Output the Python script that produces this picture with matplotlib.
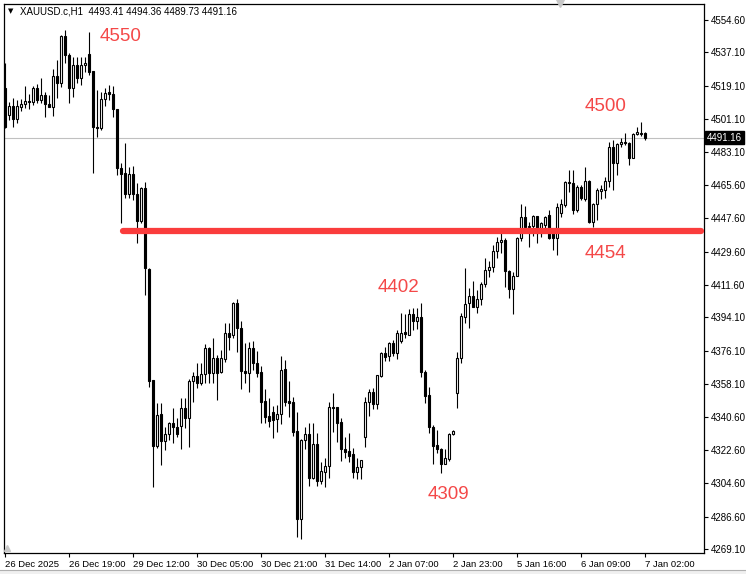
import numpy as np
import matplotlib
matplotlib.use('Agg')
from matplotlib import pyplot as plt
from matplotlib import transforms
from matplotlib.patches import Rectangle

# hourly candles, 26 Dec 2025 03:00 .. 7 Jan 2026 02:00
opens = [
    4517.7, 4503.3, 4508.2, 4501.0, 4507.8, 4509.2, 4510.9, 4510.5, 4518.1, 4511.4,
    4514.1, 4509.2, 4507.8, 4524.4, 4520.4, 4546.0, 4535.7, 4518.1, 4530.3, 4523.1,
    4530.1, 4536.2, 4527.1, 4497.0, 4496.1, 4511.8, 4515.7, 4514.7, 4506.4, 4474.5,
    4471.8, 4460.5, 4471.5, 4460.5, 4446.3, 4463.7, 4420.2, 4360.3, 4324.9, 4341.9,
    4327.6, 4331.2, 4336.9, 4334.8, 4335.5, 4345.5, 4339.6, 4359.9, 4362.4, 4358.8,
    4363.5, 4377.4, 4364.3, 4372.0, 4364.8, 4371.5, 4385.5, 4384.4, 4401.7, 4388.2,
    4365.3, 4364.3, 4377.4, 4369.3, 4364.6, 4349.0, 4340.9, 4342.9, 4339.1, 4341.8,
    4366.1, 4349.0, 4348.2, 4332.8, 4285.5, 4327.7, 4331.2, 4307.2, 4325.8, 4306.0,
    4310.8, 4313.9, 4345.9, 4345.7, 4337.6, 4323.1, 4322.0, 4320.4, 4310.8, 4313.2,
    4329.4, 4348.3, 4353.7, 4347.6, 4362.5, 4374.7, 4373.3, 4380.1, 4374.7, 4381.4,
    4386.0, 4384.8, 4395.9, 4392.3, 4394.1, 4364.8, 4352.2, 4334.8, 4325.2, 4322.9,
    4315.0, 4317.5, 4331.0, 4353.1, 4372.0, 4394.1, 4401.7, 4405.6, 4399.5, 4403.8,
    4411.9, 4419.7, 4421.5, 4429.9, 4434.6, 4435.9, 4419.3, 4409.3, 4416.4, 4436.8,
    4448.5, 4442.7, 4443.4, 4448.8, 4439.5, 4443.9, 4449.4, 4439.5, 4436.8, 4450.2,
    4454.8, 4467.3, 4466.4, 4452.0, 4464.6, 4457.8, 4467.9, 4445.8, 4455.3, 4462.5,
    4462.9, 4467.9, 4486.2, 4477.6, 4487.5, 4488.6, 4488.4, 4480.3, 4492.9, 4493.1,
    4493.41]
highs = [
    4531.2, 4510.5, 4512.3, 4511.4, 4511.8, 4519.0, 4514.7, 4519.0, 4520.1, 4523.1,
    4515.9, 4514.1, 4528.0, 4533.0, 4546.5, 4549.2, 4536.6, 4534.8, 4534.8, 4534.8,
    4534.8, 4548.3, 4527.1, 4516.8, 4515.9, 4517.7, 4519.5, 4519.0, 4506.4, 4477.2,
    4488.0, 4475.4, 4475.8, 4466.8, 4464.6, 4467.3, 4420.6, 4360.3, 4347.7, 4347.7,
    4335.1, 4337.8, 4345.0, 4339.6, 4350.4, 4350.4, 4360.7, 4364.8, 4369.3, 4369.3,
    4379.7, 4378.3, 4382.8, 4373.8, 4376.5, 4391.3, 4390.9, 4402.6, 4403.8, 4392.3,
    4380.1, 4381.0, 4381.5, 4376.0, 4367.9, 4355.5, 4350.4, 4346.3, 4346.8, 4373.3,
    4371.1, 4360.0, 4351.0, 4343.0, 4328.3, 4335.1, 4337.3, 4336.9, 4331.9, 4316.3,
    4318.4, 4348.4, 4353.5, 4345.9, 4340.0, 4329.7, 4331.9, 4323.4, 4318.0, 4317.1,
    4351.3, 4355.5, 4355.8, 4363.0, 4375.6, 4377.9, 4381.0, 4381.9, 4387.3, 4396.7,
    4395.9, 4398.5, 4399.0, 4399.0, 4401.7, 4365.7, 4356.7, 4336.0, 4333.3, 4323.8,
    4323.1, 4331.5, 4333.3, 4375.6, 4396.6, 4420.6, 4409.8, 4413.9, 4408.9, 4413.4,
    4426.0, 4424.7, 4433.2, 4437.7, 4439.5, 4436.8, 4419.7, 4418.8, 4437.7, 4455.3,
    4454.2, 4445.8, 4449.4, 4448.8, 4445.8, 4448.8, 4452.0, 4441.3, 4455.6, 4457.8,
    4467.9, 4473.6, 4473.6, 4465.5, 4465.5, 4475.1, 4468.2, 4456.0, 4463.7, 4465.5,
    4470.0, 4488.9, 4489.8, 4488.4, 4490.7, 4493.4, 4488.9, 4493.8, 4497.0, 4499.7,
    4494.36]
lows = [
    4496.1, 4500.6, 4496.6, 4498.8, 4505.6, 4506.9, 4506.4, 4508.7, 4510.0, 4510.0,
    4502.1, 4507.4, 4503.0, 4512.3, 4518.6, 4531.2, 4509.6, 4513.2, 4520.4, 4519.5,
    4526.7, 4524.9, 4471.8, 4491.3, 4495.2, 4508.2, 4511.4, 4502.4, 4470.9, 4444.8,
    4458.3, 4458.3, 4457.4, 4434.1, 4445.2, 4406.2, 4356.7, 4302.7, 4323.4, 4314.4,
    4322.5, 4327.9, 4326.1, 4329.4, 4322.9, 4334.2, 4324.3, 4348.6, 4355.8, 4357.6,
    4358.5, 4358.5, 4358.5, 4349.5, 4363.9, 4370.2, 4376.5, 4382.8, 4375.6, 4355.3,
    4358.5, 4354.0, 4365.7, 4362.1, 4337.3, 4337.3, 4334.8, 4328.8, 4332.4, 4336.4,
    4346.3, 4340.5, 4330.3, 4275.8, 4274.3, 4323.3, 4303.3, 4306.7, 4303.3, 4304.0,
    4302.7, 4307.6, 4332.4, 4327.0, 4316.8, 4318.0, 4315.9, 4307.6, 4306.7, 4306.7,
    4324.3, 4340.9, 4344.5, 4344.5, 4361.8, 4370.6, 4370.8, 4373.3, 4371.5, 4380.1,
    4382.8, 4384.6, 4387.3, 4387.7, 4361.7, 4347.7, 4331.9, 4314.8, 4320.7, 4309.9,
    4314.8, 4316.8, 4330.6, 4345.0, 4369.6, 4390.9, 4388.2, 4399.5, 4396.6, 4400.8,
    4410.7, 4416.1, 4418.8, 4426.0, 4428.7, 4410.7, 4404.7, 4395.7, 4416.4, 4435.5,
    4439.8, 4431.9, 4438.0, 4434.4, 4437.7, 4440.4, 4436.2, 4430.5, 4427.8, 4448.1,
    4453.9, 4461.9, 4449.9, 4451.2, 4457.4, 4457.1, 4444.9, 4442.7, 4446.7, 4457.8,
    4458.4, 4464.3, 4462.9, 4470.9, 4485.9, 4487.1, 4476.3, 4479.9, 4492.5, 4492.0,
    4489.73]
closes = [
    4497.0, 4508.2, 4501.0, 4508.2, 4509.2, 4510.9, 4510.2, 4517.7, 4511.4, 4514.1,
    4509.1, 4507.8, 4524.4, 4520.4, 4546.0, 4535.7, 4518.1, 4530.3, 4523.1, 4530.3,
    4531.6, 4526.7, 4496.7, 4496.1, 4511.8, 4515.4, 4514.7, 4506.4, 4474.5, 4471.4,
    4460.5, 4471.5, 4460.5, 4446.3, 4463.7, 4420.6, 4359.9, 4324.9, 4341.4, 4327.6,
    4331.2, 4336.9, 4334.8, 4331.2, 4345.5, 4339.6, 4359.9, 4362.4, 4358.8, 4363.5,
    4377.4, 4364.3, 4372.0, 4364.3, 4372.0, 4385.5, 4383.7, 4401.7, 4388.2, 4365.3,
    4364.3, 4377.4, 4369.3, 4364.3, 4348.6, 4340.5, 4338.3, 4338.7, 4341.8, 4365.7,
    4348.6, 4348.1, 4332.4, 4285.5, 4327.7, 4331.2, 4307.2, 4325.8, 4306.0, 4311.2,
    4313.9, 4345.7, 4345.4, 4336.9, 4322.9, 4321.6, 4319.6, 4310.8, 4313.2, 4317.0,
    4348.3, 4353.7, 4347.6, 4362.8, 4374.7, 4372.9, 4380.1, 4374.7, 4385.9, 4385.9,
    4385.0, 4395.9, 4392.3, 4394.1, 4364.8, 4351.7, 4334.8, 4324.9, 4322.9, 4315.0,
    4318.0, 4331.2, 4332.8, 4372.0, 4394.8, 4401.2, 4405.6, 4399.5, 4404.0, 4412.1,
    4419.7, 4421.1, 4429.9, 4435.0, 4435.9, 4418.9, 4409.3, 4416.4, 4436.8, 4448.5,
    4442.7, 4443.4, 4448.8, 4439.5, 4444.9, 4448.1, 4436.8, 4436.8, 4453.8, 4455.3,
    4467.3, 4466.4, 4452.0, 4464.6, 4458.3, 4467.9, 4445.8, 4455.3, 4462.9, 4463.2,
    4467.9, 4485.9, 4477.6, 4487.7, 4488.6, 4488.0, 4480.3, 4493.1, 4494.0, 4493.8,
    4491.16]

time_labels = ['26 Dec 2025', '26 Dec 19:00', '29 Dec 12:00', '30 Dec 05:00',
               '30 Dec 21:00', '31 Dec 14:00', '2 Jan 07:00', '2 Jan 23:00',
               '5 Jan 16:00', '6 Jan 09:00', '7 Jan 02:00']
price_ticks = [4554.60, 4537.10, 4519.10, 4501.10, 4483.10, 4465.60, 4447.60,
               4429.60, 4411.60, 4394.10, 4376.10, 4358.10, 4340.60, 4322.60,
               4304.60, 4286.60, 4269.10]
support_level = 4440.8
last_price = 4491.16

plt.rcParams['font.family'] = ['Liberation Sans', 'DejaVu Sans']

o = np.array(opens)
h = np.array(highs)
l = np.array(lows)
c = np.array(closes)
idx = np.arange(len(o))

fig = plt.figure(figsize=(7.46, 5.74), dpi=100)
ax = fig.add_axes([4 / 746, 21 / 574, 700 / 746, 549 / 574])

# wicks then bodies
ax.vlines(idx, l, h, color='black', lw=0.8, zorder=2)
up = c >= o
bottom = np.minimum(o, c)
height = np.maximum(np.abs(c - o), 0.3)
ax.bar(idx[up], height[up], 0.5, bottom=bottom[up], facecolor='white',
       edgecolor='black', linewidth=0.8, zorder=3)
ax.bar(idx[~up], height[~up], 0.5, bottom=bottom[~up], facecolor='black',
       edgecolor='black', linewidth=0.8, zorder=3)

ax.axhline(last_price, color='#c0c0c0', lw=0.8, zorder=1)
ax.plot([29.5, 174.0], [support_level, support_level], color='#fa3c3c', lw=4.5,
        solid_capstyle='round', zorder=4, clip_on=False)

red = '#f44848'
lab = dict(color=red, fontsize=13.5, va='center', ha='left')
ax.text(23.75, 4545.5, '4550', **lab)
ax.text(145, 4508.0, '4500', **lab)
ax.text(145, 4428.4, '4454', **lab)
ax.text(93.25, 4410.5, '4402', **lab)
ax.text(105.75, 4298.8, '4309', **lab)

ax.set_xlim(-0.25, 174.75)
ax.set_ylim(4267.0, 4563.2)

ax.yaxis.tick_right()
ax.set_yticks(price_ticks)
ax.set_yticklabels(['%.2f' % p for p in price_ticks])
ax.set_xticks(idx[::16])
ax.set_xticklabels(time_labels)
for t in ax.get_xticklabels():
    t.set_horizontalalignment('left')
ax.tick_params(axis='both', direction='out', length=3, width=0.8, labelsize=7, pad=2)
ax.tick_params(axis='x', labelsize=6.8)
for s in ax.spines.values():
    s.set_linewidth(0.9)

trans = transforms.blended_transform_factory(ax.transAxes, ax.transData)
ax.text(1.004, last_price, '%.2f' % last_price, transform=trans, color='white',
        fontsize=7, va='center', ha='left',
        bbox=dict(facecolor='black', edgecolor='black', pad=1.3))

fig.text(8 / 746, 1 - 11 / 574, '\u25bc', fontsize=5, va='center', ha='left',
         family='DejaVu Sans')
fig.text(20 / 746, 1 - 11 / 574, 'XAUUSD.c,H1  4493.41 4494.36 4489.73 4491.16',
         fontsize=7, va='center', ha='left')
fig.lines.append(plt.Line2D([560 / 746], [1 - 3 / 574], marker='v', markersize=6,
                            color='#c8c8c8', transform=fig.transFigure))
fig.lines.append(plt.Line2D([6.5 / 746], [1 - 548 / 574], marker='^', markersize=4,
                            color='#c8c8c8', transform=fig.transFigure))
# light grey strip at the very bottom of the window
fig.patches.append(Rectangle((0, 0), 1, 4 / 574, transform=fig.transFigure,
                             facecolor='#f0f0f0', edgecolor='none'))
fig.lines.append(plt.Line2D([0, 1], [4 / 574, 4 / 574], color='#b0b0b0', lw=0.8,
                            transform=fig.transFigure))

fig.savefig('out.png', dpi=100)
